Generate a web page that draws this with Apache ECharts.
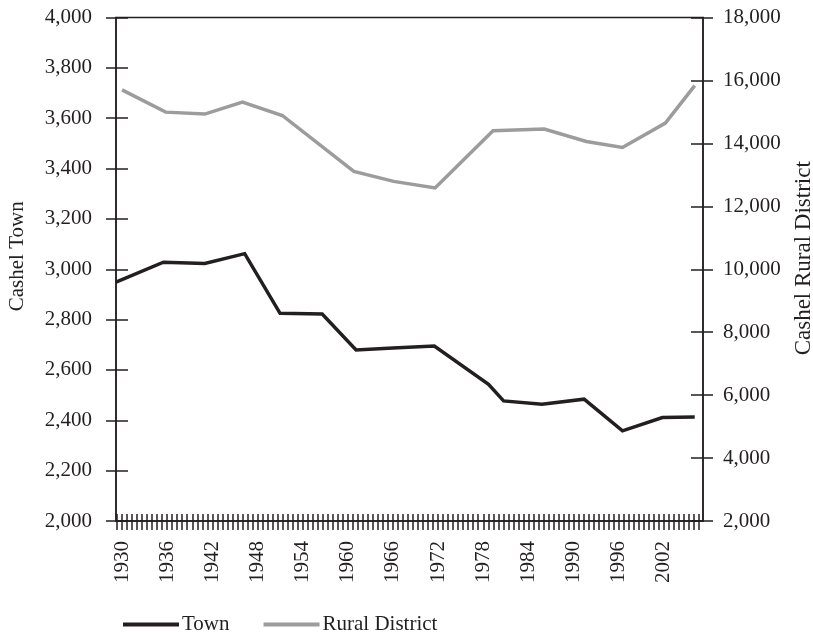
<!DOCTYPE html>
<html>
<head>
<meta charset="utf-8">
<script src="https://cdn.jsdelivr.net/npm/echarts@6/dist/echarts.min.js"></script>
<style>html,body{margin:0;padding:0;background:#fff;}#c{width:813px;height:632px;}</style>
</head>
<body>
<div id="c"></div>
<script>
// Data
const townYears = [1929.2, 1935.5, 1941, 1946.3, 1951, 1956.6, 1961.1, 1966, 1971.5, 1978.7, 1980.7, 1985.8, 1991.4, 1996.5, 2001.8, 2006.1];
const townPop   = [2949, 3028, 3023, 3062, 2825, 2822, 2679, 2687, 2695, 2543, 2477, 2464, 2484, 2358, 2411, 2413];
const ruralYears = [1930, 1935.8, 1941, 1946, 1951.3, 1960.8, 1966.1, 1971.6, 1979.3, 1986.1, 1991.7, 1996.5, 2002.2, 2006.1];
const ruralPop   = [15700, 14993, 14930, 15310, 14886, 13109, 12792, 12583, 14400, 14454, 14061, 13871, 14644, 15837];
const xLabelYears = [1930, 1936, 1942, 1948, 1954, 1960, 1966, 1972, 1978, 1984, 1990, 1996, 2002];
const leftTicks = [2000, 2200, 2400, 2600, 2800, 3000, 3200, 3400, 3600, 3800, 4000];
const rightTicks = [2000, 4000, 6000, 8000, 10000, 12000, 14000, 16000, 18000];

const X_MIN = 1929.2, X_MAX = 2007.2;
const xTicks = [];
for (let k = -2; k < 200; k++) {
  const v = 1930 + k * 2 / 3;
  if (v >= X_MIN - 1e-6 && v <= X_MAX + 1e-6) xTicks.push(v);
}

const INK = '#231f20';
const FONT = 'Liberation Serif';
const gridRect = { left: 116, right: 110, top: 17.5, bottom: 111 };
const fmt = v => Number(v).toLocaleString('en-US');

const chart = echarts.init(document.getElementById('c'), null, { renderer: 'canvas' });
chart.setOption({
  animation: false,
  textStyle: { fontFamily: FONT, color: INK },
  grid: [
    Object.assign({ show: true, borderColor: INK, borderWidth: 1.5, backgroundColor: 'transparent', containLabel: false, outerBoundsMode: 'none' }, gridRect),
    Object.assign({ show: false, containLabel: false, outerBoundsMode: 'none' }, gridRect)
  ],
  legend: {
    left: 118, top: 609,
    itemWidth: 56, itemHeight: 4, itemGap: 34,
    icon: 'rect',
    textStyle: { fontFamily: FONT, fontSize: 21, color: INK, padding: [0, 0, 0, -2] },
    data: ['Town', 'Rural District']
  },
  xAxis: [
    {
      type: 'value', gridIndex: 0, min: X_MIN, max: X_MAX,
      axisLine: { show: true, onZero: false, lineStyle: { color: INK, width: 1.5 } },
      axisTick: { show: true, inside: false, length: 9, customValues: xTicks, lineStyle: { color: INK, width: 1.5 } },
      axisLabel: { customValues: xLabelYears, rotate: 90, margin: 20, fontFamily: FONT, fontSize: 21, color: INK, formatter: v => String(Math.round(v)) },
      splitLine: { show: false }
    },
    {
      type: 'value', gridIndex: 1, min: X_MIN, max: X_MAX,
      axisLine: { show: false, onZero: false },
      axisTick: { show: true, inside: true, length: 7, customValues: xTicks, lineStyle: { color: INK, width: 1.5 } },
      axisLabel: { show: false },
      splitLine: { show: false }
    }
  ],
  yAxis: [
    {
      type: 'value', gridIndex: 0, position: 'left', min: 2000, max: 4000, interval: 200,
      name: 'Cashel Town', nameLocation: 'middle', nameRotate: 90, nameGap: 88,
      nameTextStyle: { fontFamily: FONT, fontSize: 21, color: INK, padding: [0, 0, 0, 26] },
      axisLine: { show: true, onZero: false, lineStyle: { color: INK, width: 1.5 } },
      axisTick: { show: true, inside: false, length: 10, customValues: leftTicks, lineStyle: { color: INK, width: 1.5 } },
      axisLabel: { customValues: leftTicks, margin: 24, fontFamily: FONT, fontSize: 21, color: INK, formatter: fmt },
      splitLine: { show: false }
    },
    {
      type: 'value', gridIndex: 0, position: 'right', min: 2000, max: 18000, interval: 2000,
      name: 'Cashel Rural District', nameLocation: 'middle', nameRotate: 90, nameGap: 89,
      nameTextStyle: { fontFamily: FONT, fontSize: 23, color: INK, padding: [0, 0, 0, 22] },
      axisLine: { show: true, onZero: false, lineStyle: { color: INK, width: 1.5 } },
      axisTick: { show: true, inside: false, length: 10, customValues: rightTicks, lineStyle: { color: INK, width: 1.5 } },
      axisLabel: { customValues: rightTicks, margin: 20, fontFamily: FONT, fontSize: 21, color: INK, formatter: fmt },
      splitLine: { show: false }
    },
    {
      type: 'value', gridIndex: 1, position: 'left', min: 2000, max: 4000, interval: 200,
      axisLine: { show: false, onZero: false },
      axisTick: { show: true, inside: true, length: 12, customValues: leftTicks, lineStyle: { color: INK, width: 1.5 } },
      axisLabel: { show: false }, splitLine: { show: false }
    },
    {
      type: 'value', gridIndex: 1, position: 'right', min: 2000, max: 18000, interval: 2000,
      axisLine: { show: false, onZero: false },
      axisTick: { show: true, inside: true, length: 12, customValues: rightTicks, lineStyle: { color: INK, width: 1.5 } },
      axisLabel: { show: false }, splitLine: { show: false }
    }
  ],
  series: [
    {
      name: 'Town', type: 'line', xAxisIndex: 0, yAxisIndex: 0,
      data: townYears.map((y, i) => [y, townPop[i]]),
      symbol: 'none', color: INK,
      lineStyle: { color: INK, width: 3.5, join: 'miter' }
    },
    {
      name: 'Rural District', type: 'line', xAxisIndex: 0, yAxisIndex: 1,
      data: ruralYears.map((y, i) => [y, ruralPop[i]]),
      symbol: 'none', color: '#9c9c9c',
      lineStyle: { color: '#9c9c9c', width: 3.5, join: 'miter' }
    }
  ]
});
</script>
</body>
</html>
